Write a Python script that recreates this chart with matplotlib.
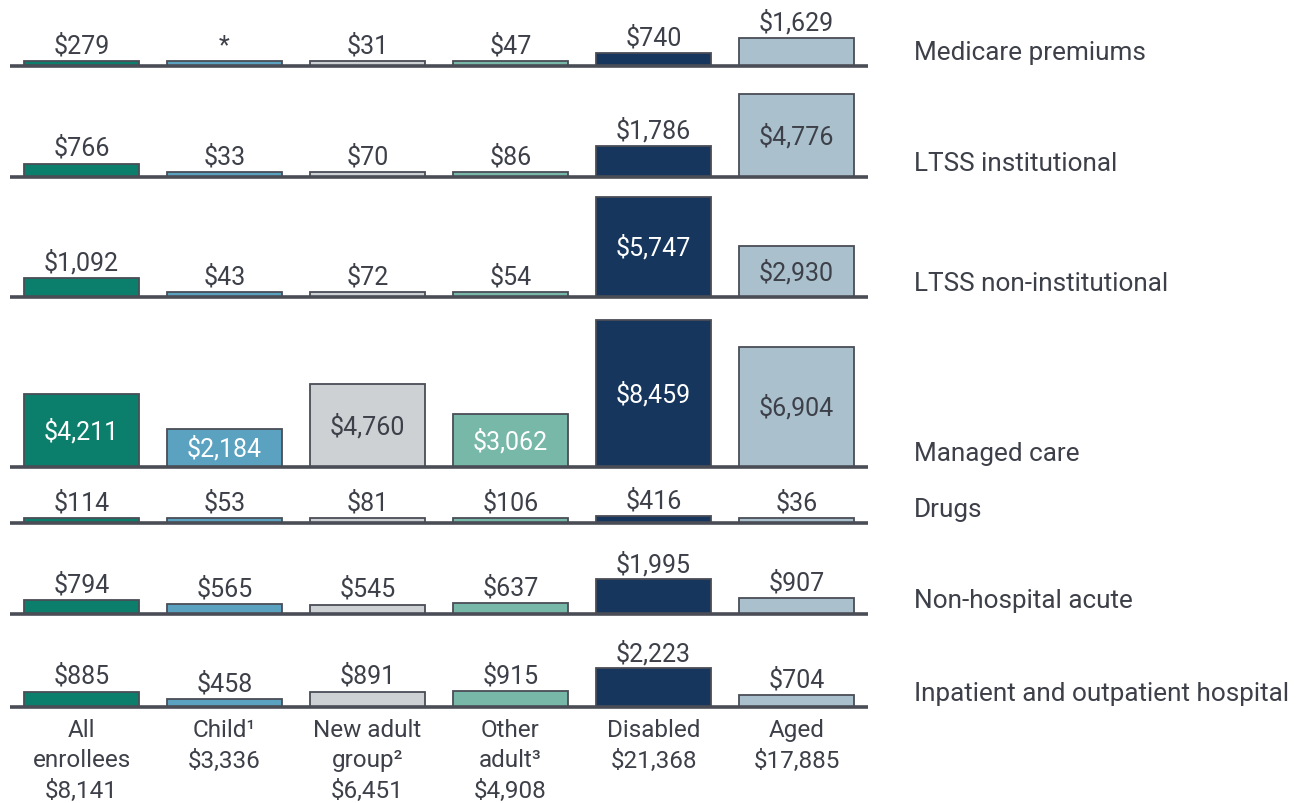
import matplotlib.pyplot as plt

plt.rcParams['font.family'] = ['Roboto', 'DejaVu Sans']

# spending per enrollee, by service category (rows) and eligibility group (columns)
groups = ['All\nenrollees', 'Child\u00b9', 'New adult\ngroup\u00b2', 'Other\nadult\u00b3', 'Disabled', 'Aged']
totals = ['$8,141', '$3,336', '$6,451', '$4,908', '$21,368', '$17,885']
services = ['Medicare premiums', 'LTSS institutional', 'LTSS non-institutional', 'Managed care',
            'Drugs', 'Non-hospital acute', 'Inpatient and outpatient hospital']

medicare = [279, 0, 31, 47, 740, 1629]
ltss_inst = [766, 33, 70, 86, 1786, 4776]
ltss_noninst = [1092, 43, 72, 54, 5747, 2930]
managed = [4211, 2184, 4760, 3062, 8459, 6904]
drugs = [114, 53, 81, 106, 416, 36]
nonhosp = [794, 565, 545, 637, 1995, 907]
hospital = [885, 458, 891, 915, 2223, 704]
rows = [medicare, ltss_inst, ltss_noninst, managed, drugs, nonhosp, hospital]
# values too small to report are shown with an asterisk
suppressed = {(0, 1)}

colors = ['#0b7f6c', '#5ba1c0', '#cdd1d4', '#77b8a9', '#16365e', '#aac1cd']
dark_fill = [True, True, False, True, True, False]
edge = '#4a4d56'
txt = '#3d4049'

# layout in figure pixels
W, H = 1302, 804
px_per_dollar = 0.01737
row_base_px = [67, 178, 298, 468, 524, 615, 708]
x0_px, pitch_px = 10, 143
ref_px = row_base_px[-1]


def dy(px):
    return px / px_per_dollar


def ypix(py):
    return (ref_px - py) / px_per_dollar


def xpix(px):
    return (px - x0_px) / pitch_px - 0.5


fig = plt.figure(figsize=(W / 100, H / 100), dpi=100)
ax = fig.add_axes([0, 0, 1, 1])
ax.set_xlim(xpix(0), xpix(W))
ax.set_ylim(ypix(H), ypix(0))
ax.axis('off')

xs = list(range(len(groups)))
fs_val, fs_row, fs_cat = 18, 18.8, 17.5
min_h = dy(5)

for r, vals in enumerate(rows):
    base = ypix(row_base_px[r])
    heights = [max(v, min_h) for v in vals]
    ax.bar(xs, heights, width=0.805, bottom=base, color=colors,
           edgecolor=edge, linewidth=1.3, zorder=2)
    ax.hlines(base, xpix(x0_px), xpix(x0_px + 6 * pitch_px), color=edge, lw=2.6, zorder=3)
    for i, v in enumerate(vals):
        label = '*' if (r, i) in suppressed else '${:,}'.format(v)
        inside = services[r] == 'Managed care' or v >= 2900
        if inside:
            ax.text(i, base + v / 2, label, ha='center', va='center', fontsize=fs_val,
                    color='white' if dark_fill[i] else txt, zorder=4)
        else:
            ax.text(i, base + max(v, min_h) + dy(16), label, ha='center', va='center',
                    fontsize=fs_val, color=txt, zorder=4)
    ax.text(xpix(914), base + dy(14), services[r], ha='left', va='center',
            fontsize=fs_row, color=txt)

bottom = ypix(row_base_px[-1])
for i, g in enumerate(groups):
    lines = g.split('\n') + [totals[i]]
    for k, ln in enumerate(lines):
        ax.text(i, bottom - dy(23 + 30 * k), ln, ha='center', va='center',
                fontsize=fs_cat, color=txt)

fig.savefig('out.png', dpi=100)
